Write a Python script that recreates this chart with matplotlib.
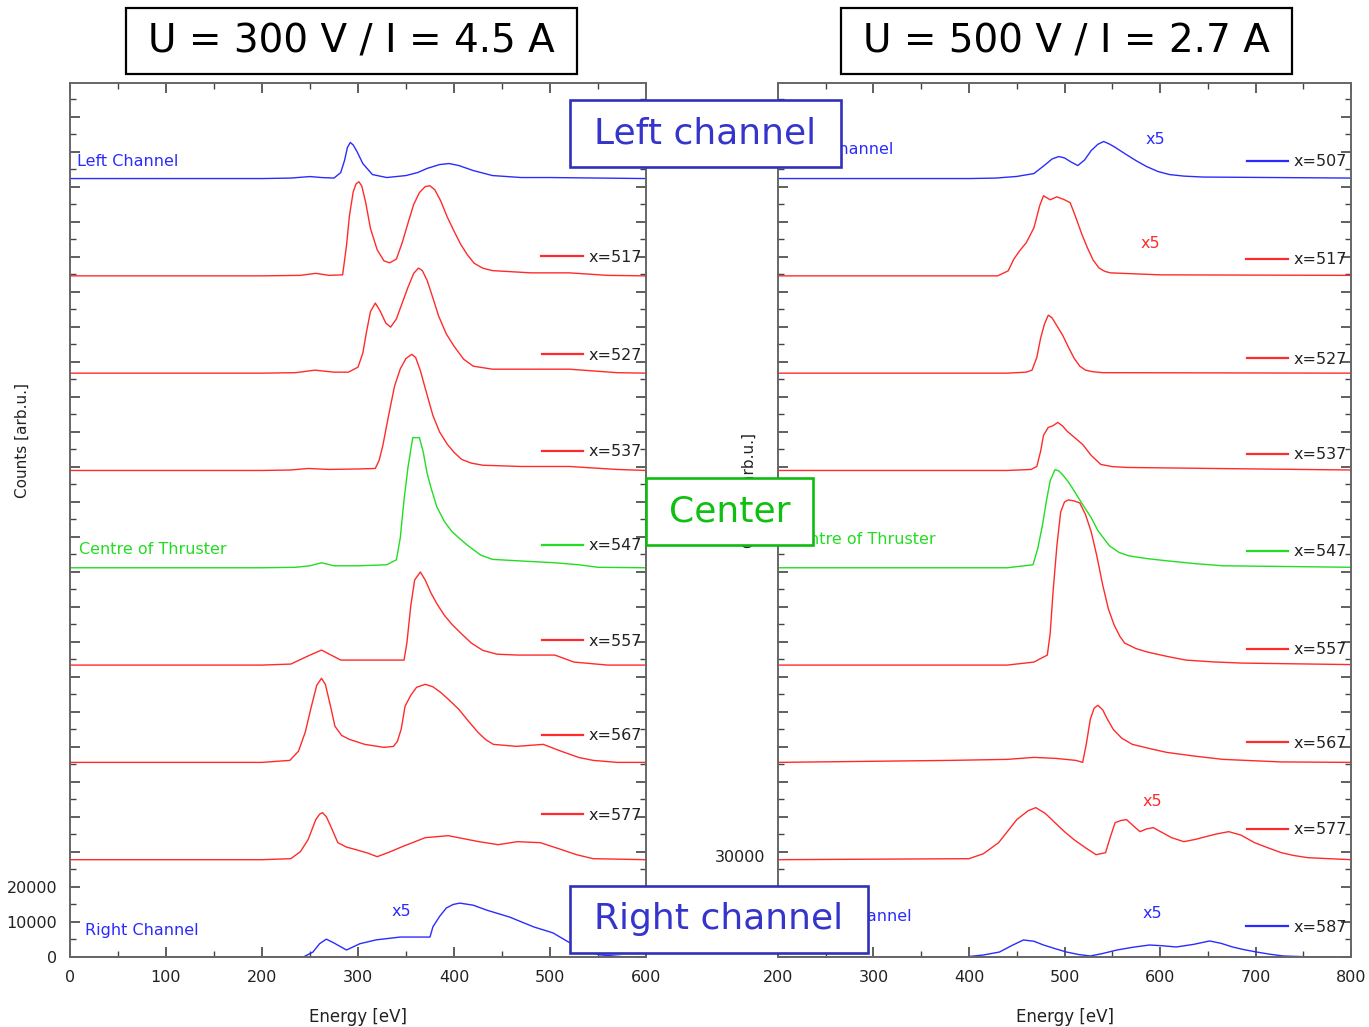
import matplotlib
matplotlib.use("Agg")
import matplotlib.pyplot as plt
from matplotlib.patches import Rectangle
from matplotlib.legend import Legend
from matplotlib.ticker import MultipleLocator, FuncFormatter

plt.rcParams['font.family'] = ['DejaVu Sans']

W, H = 1369, 1027
RED, BLUE, GREEN = '#ff2b2b', '#2b2bff', '#22dd22'
OFFSET = 27800          # vertical shift between stacked spectra [counts]

## U = 300 V / I = 4.5 A  (energy [eV], counts above own baseline)
e300_left = [0, 200, 230, 250, 262, 275, 282, 286, 289, 292, 295, 299, 305, 315, 330, 350, 362, 372, 385, 395, 405, 420, 440, 470, 500, 600]
n300_left = [0, 0, 140, 570, 290, 140, 1700, 5200, 8900, 10300, 9600, 7700, 4290, 1140, 290, 860, 1700, 2900, 4000, 4290, 3720, 2290, 860, 290, 290, 0]

e300_517 = [0, 200, 240, 256, 270, 284, 288, 291, 295, 298, 301, 304, 308, 313, 320, 327, 333, 340, 346, 352, 358, 364, 370, 375, 380, 386, 393, 400, 407, 414, 421, 430, 440, 480, 520, 560, 600]
n300_517 = [0, 0, 140, 720, 140, 290, 8580, 17000, 24000, 26300, 26880, 25600, 21000, 13500, 7440, 4300, 3720, 4800, 9440, 15000, 20400, 23800, 25500, 25740, 24600, 21500, 16800, 12800, 9000, 6000, 3600, 2200, 1500, 860, 860, 140, 0]

e300_527 = [0, 200, 235, 255, 275, 290, 300, 305, 309, 313, 318, 323, 329, 334, 340, 346, 352, 358, 363, 367, 372, 378, 384, 392, 400, 410, 420, 440, 520, 570, 600]
n300_527 = [0, 0, 140, 860, 290, 290, 1720, 5720, 12000, 17600, 20020, 17800, 14300, 13160, 15500, 20020, 24500, 28500, 30030, 29300, 26500, 21500, 16300, 11200, 7720, 4000, 2000, 1140, 1140, 140, 0]

e300_537 = [0, 200, 230, 248, 270, 300, 318, 322, 326, 331, 338, 344, 350, 356, 360, 365, 370, 378, 385, 393, 400, 408, 418, 430, 470, 520, 570, 600]
n300_537 = [0, 0, 140, 570, 290, 430, 570, 2860, 7300, 14500, 24020, 29000, 32000, 33180, 32300, 28500, 23500, 15730, 11000, 7500, 5200, 3150, 2100, 1500, 1140, 1140, 290, 0]

e300_547 = [0, 200, 235, 250, 262, 275, 300, 330, 340, 344, 348, 352, 357, 364, 368, 372, 376, 382, 390, 398, 406, 416, 428, 440, 466, 505, 530, 550, 600]
n300_547 = [0, 0, 140, 570, 1430, 570, 570, 860, 2290, 8500, 19500, 28600, 37180, 37180, 33000, 27000, 22880, 17500, 13200, 10300, 8300, 6000, 3600, 2400, 2000, 1430, 860, 140, 0]

e300_557 = [0, 200, 230, 250, 262, 272, 282, 300, 330, 348, 351, 355, 359, 365, 370, 376, 382, 390, 398, 407, 418, 430, 445, 466, 505, 525, 560, 600]
n300_557 = [0, 0, 290, 2860, 4290, 2860, 1430, 1430, 1430, 1430, 6500, 17000, 24300, 26600, 24300, 20600, 17600, 14200, 11600, 9150, 6300, 4200, 3100, 2860, 2860, 860, 0, 0]

e300_567 = [0, 200, 229, 238, 245, 251, 257, 262, 266, 271, 276, 283, 291, 307, 327, 337, 341, 345, 349, 355, 361, 370, 378, 386, 395, 405, 415, 425, 433, 441, 465, 493, 512, 530, 545, 570, 600]
n300_567 = [0, 0, 570, 3200, 8580, 15500, 22020, 24020, 22300, 16500, 10300, 7700, 6580, 5150, 4290, 4580, 6000, 9500, 16020, 19200, 21450, 22310, 21600, 20020, 17800, 15160, 11800, 8580, 6500, 5150, 4580, 5150, 3150, 1400, 570, 0, 0]

e300_577 = [0, 200, 230, 240, 248, 256, 260, 263, 267, 272, 279, 288, 298, 310, 320, 333, 346, 358, 370, 394, 426, 446, 466, 490, 509, 528, 545, 600]
n300_577 = [0, 0, 290, 2300, 5720, 11440, 13000, 13440, 12300, 9300, 4860, 3600, 2860, 1900, 860, 2200, 3720, 5000, 6290, 6860, 5150, 4290, 5150, 4860, 3150, 1400, 290, 0]

e300_right = [0, 235, 243, 253, 260, 267, 275, 288, 302, 319, 344, 375, 378, 385, 392, 399, 406, 420, 434, 458, 483, 503, 521, 535, 552, 580, 600]
n300_right = [0, 0, 0, 1400, 3800, 5100, 4000, 2000, 3800, 4900, 5700, 5700, 8600, 11600, 14000, 15000, 15400, 14800, 13400, 11400, 8600, 6900, 4000, 2100, 600, 0, 0]

## U = 500 V / I = 2.7 A
e500_507 = [200, 400, 428, 450, 468, 480, 487, 494, 500, 507, 514, 521, 528, 535, 541, 546, 552, 563, 575, 586, 598, 610, 625, 645, 800]
n500_507 = [0, 0, 140, 600, 1430, 4000, 5600, 6290, 5900, 4700, 3720, 5300, 8010, 9800, 10580, 10000, 9100, 7150, 5100, 3430, 2000, 1140, 700, 430, 140]

e500_517 = [200, 430, 441, 447, 453, 460, 468, 474, 478, 485, 492, 500, 506, 512, 518, 524, 530, 536, 542, 548, 600, 800]
n500_517 = [0, 0, 1430, 4800, 7150, 9500, 13730, 20020, 22880, 21740, 22590, 21740, 20880, 16590, 12000, 8010, 4500, 2290, 1300, 860, 290, 140]

e500_527 = [200, 440, 460, 466, 471, 475, 479, 483, 487, 491, 498, 504, 510, 516, 522, 530, 540, 800]
n500_527 = [0, 0, 290, 860, 4500, 10010, 14000, 16590, 15800, 14000, 10870, 7500, 4290, 2000, 860, 400, 140, 0]

e500_537 = [200, 440, 465, 471, 475, 478, 483, 488, 493, 498, 503, 511, 519, 528, 538, 550, 566, 700, 800]
n500_537 = [0, 0, 290, 1140, 5500, 10010, 12300, 12800, 13730, 12700, 11150, 9300, 7440, 4300, 1720, 1100, 860, 430, 140]

e500_547 = [200, 440, 467, 472, 477, 481, 485, 490, 494, 498, 503, 508, 515, 522, 528, 535, 547, 557, 567, 587, 607, 636, 666, 800]
n500_547 = [0, 0, 860, 5500, 12300, 19000, 24880, 28030, 27700, 26600, 24900, 22880, 19800, 16800, 14300, 10600, 6290, 4400, 3430, 2600, 2000, 1200, 570, 140]

e500_557 = [200, 440, 468, 482, 485, 488, 492, 496, 500, 504, 510, 516, 522, 528, 534, 540, 546, 552, 558, 563, 575, 587, 607, 627, 656, 686, 800]
n500_557 = [0, 0, 860, 2860, 9000, 20880, 34000, 43760, 46600, 47190, 46900, 46330, 43000, 38040, 31000, 22880, 16000, 11440, 8200, 6290, 4700, 3720, 2500, 1430, 900, 570, 140]

e500_567 = [200, 380, 440, 468, 491, 512, 519, 523, 527, 531, 535, 540, 545, 551, 560, 571, 590, 607, 636, 666, 726, 800]
n500_567 = [0, 570, 860, 1430, 1140, 570, 0, 5500, 12300, 15500, 16300, 15000, 12300, 9440, 6900, 5150, 3900, 2860, 1800, 860, 140, 0]

e500_577 = [200, 400, 415, 431, 450, 462, 470, 480, 490, 500, 510, 522, 533, 543, 548, 553, 559, 565, 572, 579, 586, 593, 602, 612, 625, 637, 648, 660, 672, 685, 699, 713, 727, 740, 755, 800]
n500_577 = [0, 290, 1700, 4860, 11440, 14000, 14870, 13200, 10580, 8000, 5720, 3400, 1430, 2000, 6500, 10580, 11200, 11440, 9700, 8010, 8800, 9150, 7800, 6300, 5150, 5800, 6580, 7400, 8010, 7000, 4860, 3400, 2000, 1200, 570, 0]

e500_587 = [200, 395, 415, 432, 445, 457, 468, 478, 490, 502, 515, 527, 540, 555, 572, 589, 603, 617, 635, 652, 664, 676, 688, 701, 715, 729, 760, 800]
n500_587 = [0, 0, 570, 1430, 3300, 4860, 4500, 3430, 2400, 1430, 700, 290, 1000, 2000, 2800, 3430, 3200, 2860, 3600, 4580, 3900, 2860, 2100, 1430, 800, 290, 0, 0]

labels = ["x=507", "x=517", "x=527", "x=537", "x=547", "x=557", "x=567", "x=577", "x=587"]
colors = [BLUE, RED, RED, RED, GREEN, RED, RED, RED, BLUE]
rows = [8, 7, 6, 5, 4, 3, 2, 1, 0]       # stacking position, top to bottom

spectra300 = [(e300_left, n300_left), (e300_517, n300_517), (e300_527, n300_527),
              (e300_537, n300_537), (e300_547, n300_547), (e300_557, n300_557),
              (e300_567, n300_567), (e300_577, n300_577), (e300_right, n300_right)]
spectra500 = [(e500_507, n500_507), (e500_517, n500_517), (e500_527, n500_527),
              (e500_537, n500_537), (e500_547, n500_547), (e500_557, n500_557),
              (e500_567, n500_567), (e500_577, n500_577), (e500_587, n500_587)]

# legend label centre heights (pixels) and which labels are visible
leg300_y = [158, 257, 355, 452, 546, 641, 736, 815, 912]
leg300_show = [False, True, True, True, True, True, True, True, False]
leg500_y = [162, 260, 359, 455, 552, 650, 743, 830, 927]

fig = plt.figure(figsize=(W / 100, H / 100), dpi=100)
axL = fig.add_axes([70 / W, 1 - 957 / H, 576 / W, 874 / H])
axR = fig.add_axes([778 / W, 1 - 957 / H, 573 / W, 874 / H])


def style(ax, xmin, xmax):
    ax.set_xlim(xmin, xmax)
    ax.set_ylim(0, 249700)
    ax.xaxis.set_major_locator(MultipleLocator(100))
    ax.xaxis.set_minor_locator(MultipleLocator(50))
    ax.yaxis.set_major_locator(MultipleLocator(10000))
    ax.yaxis.set_minor_locator(MultipleLocator(5000))
    ax.tick_params(which='both', direction='in', top=True, right=True,
                   color='#444444', labelcolor='#222222', labelsize=11.5, pad=9)
    ax.tick_params(which='major', length=7, width=1.2)
    ax.tick_params(which='minor', length=4, width=1.0)
    for s in ax.spines.values():
        s.set_color('#666666')
        s.set_linewidth(1.4)
    ax.set_xlabel("Energy [eV]", fontsize=12, color='#222222', labelpad=17)


style(axL, 0, 600)
style(axR, 200, 800)
axL.yaxis.set_major_formatter(FuncFormatter(lambda v, p: f"{int(v)}" if v <= 20000 else ""))
axR.tick_params(labelleft=False)


def draw(ax, spectra, leg_y, leg_show, leg_x):
    for (e, n), lab, c, r, ly, show in zip(spectra, labels, colors, rows, leg_y, leg_show):
        ax.plot(e, [v + r * OFFSET for v in n], color=c, lw=1.0)
        h, = ax.plot([], [], color=c, lw=1.6)
        leg = Legend(ax, [h], [lab if show else ""], loc='center right',
                     bbox_to_anchor=(leg_x / W, 1 - ly / H), bbox_transform=fig.transFigure,
                     frameon=False, fontsize=11.5, handlelength=2.6, handletextpad=0.35,
                     borderpad=0, borderaxespad=0)
        for t in leg.get_texts():
            t.set_color('#222222')
        ax.add_artist(leg)


draw(axL, spectra300, leg300_y, leg300_show, 642)
draw(axR, spectra500, leg500_y, [True] * 9, 1347)


def ftext(x, y, s, **kw):
    fig.text(x / W, 1 - y / H, s, va='center', **kw)


# channel names and scale notes
ftext(77, 161, "Left Channel", color=BLUE, fontsize=11.5)
ftext(79, 550, "Centre of Thruster", color=GREEN, fontsize=11.5)
ftext(85, 931, "Right Channel", color=BLUE, fontsize=11.5)
ftext(893, 149, "Left Channel", color=BLUE, fontsize=11.5, ha='right')
ftext(936, 539, "Centre of Thruster", color=GREEN, fontsize=11.5, ha='right')
ftext(912, 917, "Right Channel", color=BLUE, fontsize=11.5, ha='right')
ftext(401, 911, "x5", color=BLUE, fontsize=11.5, ha='center')
ftext(1155, 140, "x5", color=BLUE, fontsize=11.5, ha='center')
ftext(1150, 244, "x5", color=RED, fontsize=11.5, ha='center')
ftext(1152, 801, "x5", color=RED, fontsize=11.5, ha='center')
ftext(1152, 914, "x5", color=BLUE, fontsize=11.5, ha='center')

ftext(22, 441, "Counts [arb.u.]", rotation=90, ha='center', fontsize=11, color='#222222')
ftext(749, 491, "Counts [arb.u.]", rotation=90, ha='center', fontsize=11, color='#222222')
ftext(765, 858, "30000", ha='right', fontsize=11.5, color='#222222')


def box(x0, y0, x1, y1, s, ec, tc, fs, lw):
    fig.add_artist(Rectangle((x0 / W, 1 - y1 / H), (x1 - x0) / W, (y1 - y0) / H,
                             transform=fig.transFigure, facecolor='white',
                             edgecolor=ec, linewidth=lw, zorder=10))
    fig.text((x0 + x1) / 2 / W, 1 - (y0 + y1) / 2 / H, s, ha='center', va='center',
             color=tc, fontsize=fs, zorder=11)


box(126, 8, 577, 74, "U = 300 V / I = 4.5 A", 'black', 'black', 28, 1.6)
box(841, 8, 1292, 74, "U = 500 V / I = 2.7 A", 'black', 'black', 28, 1.6)
box(570, 100, 841, 167, "Left channel", '#3030bb', '#3535cc', 26, 1.9)
box(646, 478, 813, 545, "Center", '#10bb10', '#10c010', 26, 1.9)
box(570, 886, 868, 953, "Right channel", '#3030bb', '#3535cc', 26, 1.9)

fig.savefig("out.png", dpi=100)
